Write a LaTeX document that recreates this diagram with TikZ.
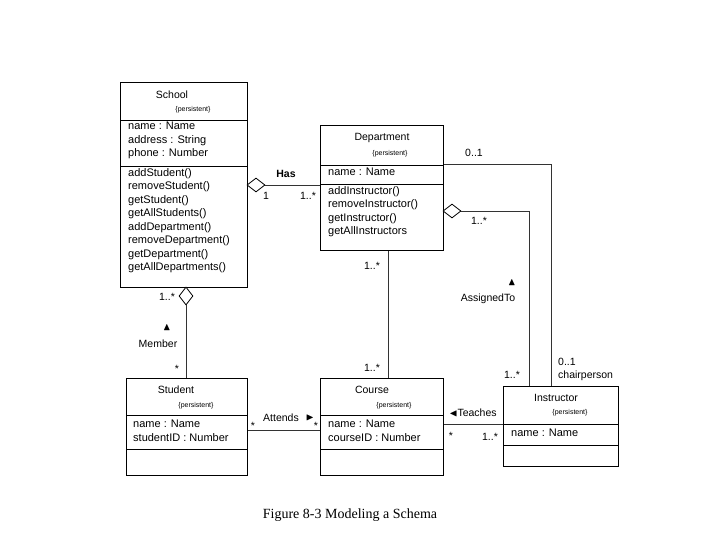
\documentclass[tikz,border=0pt]{standalone}
\usepackage{amssymb}
\usepackage{fontspec}
\setmainfont{Liberation Sans}
\newfontfamily\capfont{Liberation Serif}
\usetikzlibrary{shapes.geometric}
\begin{document}
\begin{tikzpicture}[x=1pt,y=-1pt,
  box/.style={draw,line width=0.8pt,anchor=north west,inner sep=0pt},
  ttl/.style={font=\fontsize{10.5}{12}\selectfont},
  pers/.style={font=\fontsize{7}{8}\selectfont},
  txt/.style={font=\fontsize{11}{13.5}\selectfont,align=left,anchor=north west,inner sep=0pt},
  lbl/.style={font=\fontsize{10.5}{12}\selectfont,inner sep=0pt},
  dia/.style={draw,diamond,fill=white,line width=0.8pt,minimum width=18pt,minimum height=14pt,inner sep=0pt},
  conn/.style={line width=0.8pt,draw=black!80}]
\useasboundingbox (0,0) rectangle (720,540);

% School
\node[box,minimum width=127pt,minimum height=205pt] (school) at (120,82) {};
\node[ttl] at (172,95) {School};
\node[pers] at (193,110) {\{persistent\}};
\draw[line width=0.8pt] (120,120) -- (247,120) (120,166) -- (247,166);
\node[txt] at (128,122) {name : Name\\address : String\\phone : Number};
\node[txt] at (128,168) {addStudent()\\removeStudent()\\getStudent()\\getAllStudents()\\addDepartment()\\removeDepartment()\\getDepartment()\\getAllDepartments()};

% Department
\node[box,minimum width=123pt,minimum height=125pt] (dept) at (320,125) {};
\node[ttl] at (382,138) {Department};
\node[pers] at (390,154) {\{persistent\}};
\draw[line width=0.8pt] (320,165) -- (443,165) (320,184) -- (443,184);
\node[txt] at (328,168) {name : Name};
\node[txt] at (328,186) {addInstructor()\\removeInstructor()\\getInstructor()\\getAllInstructors};

% Student
\node[box,minimum width=121pt,minimum height=97pt] (student) at (126,378) {};
\node[ttl] at (176,390) {Student};
\node[pers] at (196,406) {\{persistent\}};
\draw[line width=0.8pt] (126,415) -- (247,415) (126,449) -- (247,449);
\node[txt] at (133,420) {name : Name\\studentID : Number};

% Course
\node[box,minimum width=123pt,minimum height=97pt] (course) at (320,378) {};
\node[ttl] at (372,390) {Course};
\node[pers] at (394,406) {\{persistent\}};
\draw[line width=0.8pt] (320,415) -- (443,415) (320,449) -- (443,449);
\node[txt] at (328,420) {name : Name\\courseID : Number};

% Instructor
\node[box,minimum width=115pt,minimum height=80pt] (instr) at (503,386) {};
\node[ttl] at (556,398) {Instructor};
\node[pers] at (570,413) {\{persistent\}};
\draw[line width=0.8pt] (503,424) -- (618,424) (503,445) -- (618,445);
\node[txt] at (511,429) {name : Name};

% aggregation diamonds
\node[dia] (d1) at (256,185) {};
\node[dia] (d2) at (452,211) {};
\node[dia,minimum width=14pt,minimum height=18pt] (d3) at (186,296) {};

% connectors
\coordinate (c1) at (529,211);
\coordinate (c2) at (551,164);
\draw[conn] (d1.east) -- (dept.west |- d1.east);
\draw[conn] (d2.east) -- (c1) -- (c1 |- instr.north);
\draw[conn] (dept.east |- c2) -- (c2) -- (c2 |- instr.north);
\draw[conn] (dept.south -| 388,0) -- (course.north -| 388,0);
\draw[conn] (d3.south) -- (student.north -| d3.south);
\draw[conn] (student.east |- 0,430) -- (course.west |- 0,430);
\draw[conn] (course.east |- 0,424) -- (instr.west |- 0,424);

% labels
\node[lbl,font=\bfseries\fontsize{10.5}{12}\selectfont] at (286,174) {Has};
\node[lbl] at (266,196) {1};
\node[lbl] at (308,196) {1..*};
\node[lbl] at (474,153) {0..1};
\node[lbl] at (479,221) {1..*};
\node[lbl] at (372,266) {1..*};
\node[lbl] at (512,283) {$\blacktriangle$};
\node[lbl] at (488,299) {AssignedTo};
\node[lbl] at (372,368) {1..*};
\node[lbl] at (512,375) {1..*};
\node[lbl,anchor=west] at (558,362) {0..1};
\node[lbl,anchor=west] at (558,376) {chairperson};
\node[lbl] at (167,297) {1..*};
\node[lbl] at (167,328) {$\blacktriangle$};
\node[lbl] at (158,344) {Member};
\node[lbl] at (177,369) {*};
\node[lbl] at (253,426) {*};
\node[lbl] at (281,418) {Attends};
\node[lbl] at (310,418) {$\blacktriangleright$};
\node[lbl] at (316,426) {*};
\node[lbl] at (473,413) {$\blacktriangleleft$Teaches};
\node[lbl] at (451,436) {*};
\node[lbl] at (490,437) {1..*};

\node[font=\capfont\fontsize{14}{16}\selectfont] at (350,515) {Figure 8-3 Modeling a Schema};
\end{tikzpicture}
\end{document}
